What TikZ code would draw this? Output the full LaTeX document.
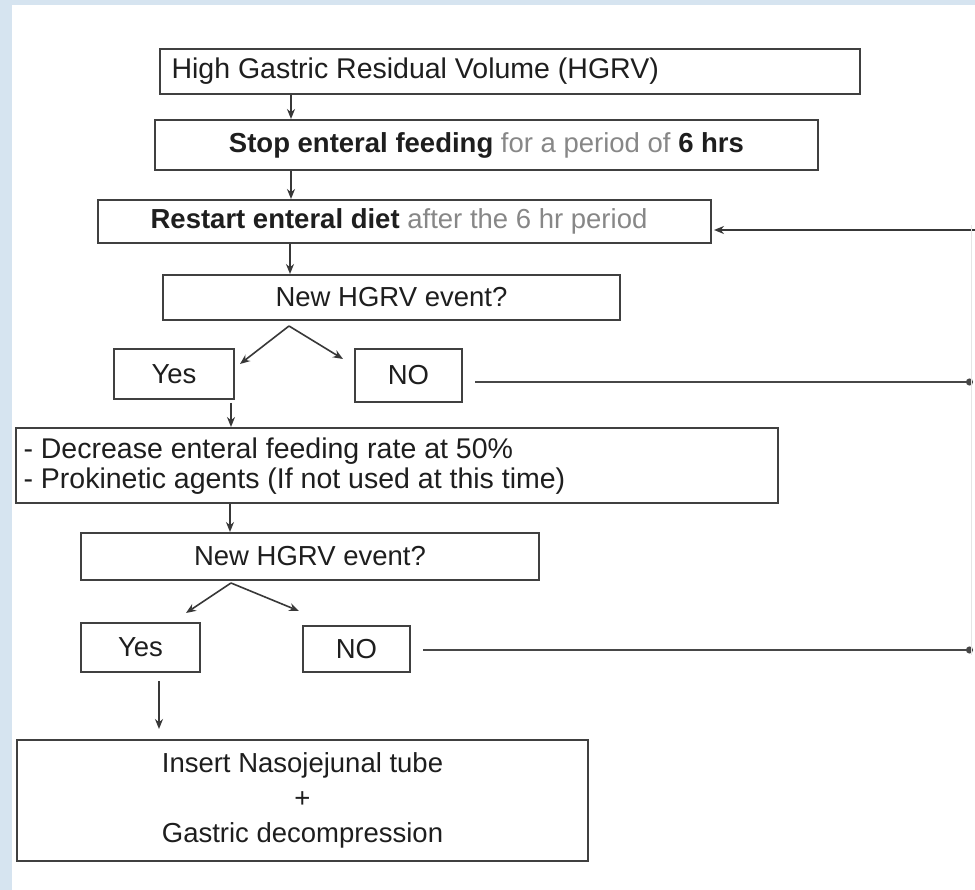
\documentclass[tikz,border=0pt]{standalone}
\usepackage{fontspec}
\setmainfont{Liberation Sans}
\usetikzlibrary{arrows.meta,calc}
\definecolor{bgblue}{RGB}{214,228,240}
\definecolor{txt}{RGB}{30,30,30}
\definecolor{lighttxt}{RGB}{135,135,135}
\tikzset{
  box/.style={draw=black!75, line width=2pt, rectangle, inner sep=0pt, text=txt,
    font=\fontsize{27.5}{31}\selectfont},
  conn/.style={draw=black!78, line width=1.6pt, -{Stealth[length=10pt,width=8pt]}},
  dotconn/.style={draw=black!72, line width=1.8pt, -{Circle[length=7pt]}},
}
\begin{document}
\begin{tikzpicture}[x=1pt,y=-1pt]
\useasboundingbox (0,0) rectangle (975,890);
\fill[bgblue] (0,0) rectangle (975,890);
\fill[white] (12,5) rectangle (975,890);
% boxes
\node[box, minimum width=700pt, minimum height=45pt] (b1) at (510,71.5) {};
\node[anchor=west, text=txt, font=\fontsize{28.5}{32}\selectfont] (t1) at (168,71.5) {High Gastric Residual Volume (HGRV)};
\node[box, minimum width=663pt, minimum height=50pt] (b2) at (486.5,145)
  {\textbf{Stop enteral feeding} \textcolor{lighttxt}{for a period of} \textbf{6 hrs}};
\node[box, minimum width=613pt, minimum height=43pt] (b3) at (404.5,221.5) {};
\node[text=txt, font=\fontsize{27.5}{31}\selectfont] (t3) at (399,221.5)
  {\textbf{Restart enteral diet} \textcolor{lighttxt}{after the 6 hr period}};
\node[box, minimum width=457pt, minimum height=45pt] (b4) at (391.5,297.5) {New HGRV event?};
\node[box, minimum width=120pt, minimum height=50pt] (yes1) at (174,374) {Yes};
\node[box, minimum width=107pt, minimum height=53pt] (no1) at (408.5,375.5) {NO};
\node[box, minimum width=762pt, minimum height=75pt] (b5) at (397,465.5) {};
\node[anchor=west, text=txt, align=left, font=\fontsize{28.5}{30}\selectfont] (t5) at (20,466)
  {- Decrease enteral feeding rate at 50\%\\- Prokinetic agents (If not used at this time)};
\node[box, minimum width=458pt, minimum height=47pt] (b6) at (310,556.5) {New HGRV event?};
\node[box, minimum width=119pt, minimum height=49pt] (yes2) at (140.5,647.5) {Yes};
\node[box, minimum width=107pt, minimum height=46pt] (no2) at (356.5,649) {NO};
\node[box, minimum width=571pt, minimum height=121pt, align=center,
  font=\fontsize{27.5}{35}\selectfont] (b7) at (302.5,800.5)
  {Insert Nasojejunal tube\\+\\Gastric decompression};
% helper coordinates
\coordinate (x1) at (291,0);
\coordinate (x2) at (290,0);
\coordinate (f1) at (289,326);
\coordinate (f1l) at (240,364);
\coordinate (f1r) at (343,359);
\coordinate (x3) at (231,0);
\coordinate (x4) at (230,0);
\coordinate (f2) at (231,583);
\coordinate (f2l) at (186,613);
\coordinate (f2r) at (299,611);
\coordinate (x5) at (159,0);
\coordinate (r1) at (973,382);
\coordinate (r2) at (973,650);
\coordinate (r0) at (975,230);
\coordinate (v1) at (971,225);
\coordinate (v2) at (971,655);
% connectors
\draw[conn] (b1.south -| x1) -- (b2.north -| x1);
\draw[conn] (b2.south -| x1) -- (b3.north -| x1);
\draw[conn] (b3.south -| x2) -- (b4.north -| x2);
\draw[conn] (f1) -- (f1l);
\draw[conn] (f1) -- (f1r);
\draw[conn] ([yshift=-3pt]yes1.south -| x3) -- (b5.north -| x3);
\draw[conn] (b5.south -| x4) -- (b6.north -| x4);
\draw[conn] (f2) -- (f2l);
\draw[conn] (f2) -- (f2r);
\draw[conn] ([yshift=-8pt]yes2.south -| x5) -- ([yshift=10pt]b7.north -| x5);
\draw[dotconn] ([xshift=12pt]no1.east |- r1) -- (r1);
\draw[dotconn] ([xshift=12pt]no2.east |- r2) -- (r2);
\draw[conn] (r0) -- ([xshift=2pt]b3.east |- r0);
\draw[black!10, line width=0.8pt] (v1) -- (v2);
\end{tikzpicture}
\end{document}
